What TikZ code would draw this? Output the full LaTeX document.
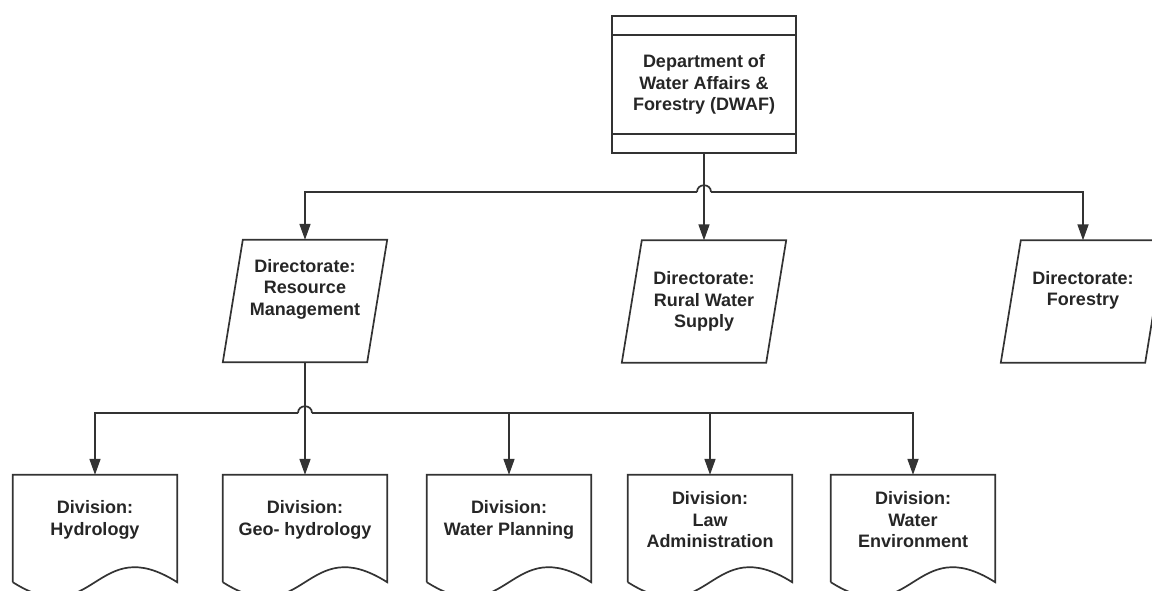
\documentclass[tikz,border=0pt]{standalone}
\usepackage{fontspec}
\setmainfont{Liberation Sans}
\usetikzlibrary{arrows.meta,calc}

\tikzset{
  conn/.style={draw=black!80, line width=1.7pt},
  arr/.style={conn, -{Triangle[length=16pt,width=11pt]}},
  txt/.style={font=\fontsize{18}{21.5}\selectfont\bfseries, text=black!85, align=center},
  topbox/.style={draw=black!80, line width=1.7pt, minimum width=184pt, minimum height=137pt, inner sep=0pt, txt},
  dirbox/.style={minimum width=144pt, minimum height=122pt, inner sep=0pt, txt},
  divbox/.style={minimum width=164pt, minimum height=90pt, inner sep=0pt, txt},
}

\begin{document}
\begin{tikzpicture}[x=1pt,y=-1pt]
  \useasboundingbox (0,0) rectangle (1152,590);
  \fill[white] (0,0) rectangle (1152,590);
  \clip (0,0) rectangle (1152,590);

  % department
  \node[topbox] (dwaf) at (704,84.5) {Department of\\Water Affairs \&\\Forestry (DWAF)};
  \draw[conn] ([yshift=-20pt]dwaf.north west) -- ([yshift=-20pt]dwaf.north east);
  \draw[conn] ([yshift=20pt]dwaf.south west) -- ([yshift=20pt]dwaf.south east);

  % directorates
  \node[dirbox, label={[txt,yshift=12pt]center:{Directorate:\\Resource\\Management}}] (rm) at (305,301) {};
  \node[dirbox] (rws) at (704,301.5) {Directorate:\\Rural Water\\Supply};
  \node[dirbox, label={[txt,yshift=11pt]center:{Directorate:\\Forestry}}] (fo) at (1083,301.5) {};
  \foreach \d in {rm,rws,fo}
    \draw[conn] ([xshift=-10pt]\d.south west) -- ([xshift=10pt]\d.north west)
      -- ([xshift=10pt]\d.north east) -- ([xshift=-10pt]\d.south east) -- cycle;

  % divisions
  \node[divbox] (hyd) at (95,520) {Division:\\Hydrology};
  \node[divbox] (geo) at (305,520) {Division:\\Geo- hydrology};
  \node[divbox] (wp) at (509,520) {Division:\\Water Planning};
  \node[divbox] (law) at (710,520) {Division:\\Law\\Administration};
  \node[divbox] (env) at (913,520) {Division:\\Water\\Environment};
  \foreach \d in {hyd,geo,wp,law,env}
    \draw[conn] ([yshift=-17pt]\d.south west) -- (\d.north west) -- (\d.north east)
      -- ([yshift=-17pt]\d.south east) .. controls +(-82,-52) and +(82,52) .. ([yshift=-17pt]\d.south west);

  % connectors
  \coordinate (hopL1) at (697,192);
  \coordinate (hopR1) at (711,192);
  \draw[arr] (dwaf.south) -- (rws.north);
  \draw[conn] (hopL1) .. controls +(0,-9) and +(0,-9) .. (hopR1);
  \draw[arr] (hopL1) -| (rm.north);
  \draw[arr] (hopR1) -| (fo.north);

  \coordinate (hopL2) at (298,413);
  \coordinate (hopR2) at (312,413);
  \draw[arr] (rm.south) -- (geo.north);
  \draw[conn] (hopL2) .. controls +(0,-9) and +(0,-9) .. (hopR2);
  \draw[arr] (hopL2) -| (hyd.north);
  \foreach \to in {wp,law,env}
    \draw[arr] (hopR2) -| (\to.north);
\end{tikzpicture}
\end{document}
